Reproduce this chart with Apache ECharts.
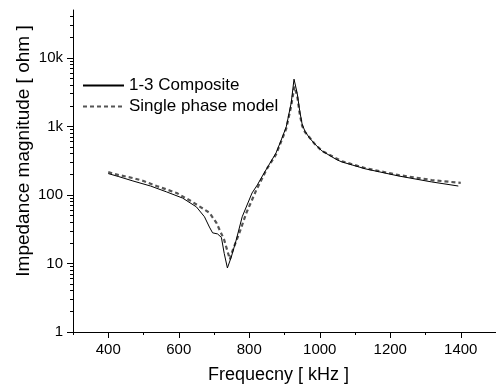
<!DOCTYPE html>
<html>
<head>
<meta charset="utf-8">
<script src="https://cdn.jsdelivr.net/npm/echarts@6/dist/echarts.min.js"></script>
<style>
  html, body { margin: 0; padding: 0; background: #fff; }
  #chart { width: 496px; height: 385px; }
</style>
</head>
<body>
<div id="chart"></div>
<script>
// 1-3 Composite (measured)
var freqComposite = [400, 430, 470, 520, 565, 611, 650, 673, 687, 696, 710, 721, 729, 738, 749, 763, 780, 808, 823, 834, 855, 876, 890, 905, 919, 927, 936, 943, 950, 958, 970, 985, 1006, 1049, 1063, 1130, 1224, 1317, 1393];
var magComposite = [205, 185, 160, 135, 111, 90, 67, 48, 34, 28, 27, 24, 14, 8.6, 12.4, 22, 48, 107, 140, 177, 270, 410, 620, 985, 2200, 4900, 3050, 1700, 1080, 850, 690, 560, 440, 325, 303, 240, 189, 155, 135];

// Single phase model
var freqModel = [400, 430, 469, 500, 537, 594, 639, 687, 707, 729, 745, 752, 772, 792, 820, 850, 876, 905, 919, 928, 936, 943, 950, 958, 970, 985, 1006, 1063, 1130, 1224, 1317, 1400];
var magModel = [215, 195, 177, 160, 135, 107, 79, 55, 39, 22, 11.5, 15, 28, 55, 118, 240, 390, 930, 2000, 3800, 2800, 1550, 1020, 830, 700, 560, 440, 310, 245, 195, 165, 150];

var xMajorTicks = [400, 600, 800, 1000, 1200, 1400];
var xMinorTicks = [300, 500, 700, 900, 1100, 1300, 1500];
var yMajorTicks = [1, 10, 100, 1000, 10000];
var yMinorTicks = [2, 3, 4, 5, 6, 7, 8, 9, 20, 30, 40, 50, 60, 70, 80, 90,
  200, 300, 400, 500, 600, 700, 800, 900, 2000, 3000, 4000, 5000, 6000, 7000, 8000, 9000,
  20000, 30000, 40000];

function pairs(xs, ys) {
  return xs.map(function (x, i) { return [x, ys[i]]; });
}

var chart = echarts.init(document.getElementById('chart'));
var font = 'Liberation Sans, Arial, sans-serif';

var option = {
  animation: false,
  textStyle: { fontFamily: font },
  grid: { left: 73, right: 0, top: 10, bottom: 53, outerBoundsMode: 'none', containLabel: false },
  legend: {
    left: 77, top: 72, orient: 'vertical',
    itemWidth: 41, itemHeight: 14, itemGap: 4,
    itemStyle: { opacity: 0 },
    textStyle: { fontSize: 17, color: '#000', fontFamily: font },
    data: ['1-3 Composite', 'Single phase model']
  },
  xAxis: [{
    type: 'value', min: 300, max: 1500,
    name: 'Frequecny [ kHz ]', nameLocation: 'middle', nameGap: 34,
    nameTextStyle: { fontSize: 18, color: '#000', padding: [0, 12, 0, 0] },
    axisLine: { lineStyle: { color: '#000', width: 1 } },
    axisTick: { customValues: xMajorTicks, length: 6, lineStyle: { color: '#000' } },
    axisLabel: {
      customValues: xMajorTicks, fontSize: 15, color: '#000', margin: 10,
      formatter: function (v) { return String(v); }
    },
    splitLine: { show: false }
  }, {
    type: 'value', min: 300, max: 1500, position: 'bottom',
    axisLine: { show: false },
    axisTick: { customValues: xMinorTicks, length: 3, lineStyle: { color: '#000' } },
    axisLabel: { show: false },
    splitLine: { show: false }
  }],
  yAxis: [{
    type: 'log', min: 1, max: 50000, logBase: 10,
    name: 'Impedance magnitude [ ohm ]', nameLocation: 'middle', nameGap: 40,
    nameMoveOverlap: false,
    nameTextStyle: { fontSize: 19, color: '#000', padding: [0, 0, 0, 40] },
    axisLine: { show: true, lineStyle: { color: '#000', width: 1 } },
    axisTick: { customValues: yMajorTicks, length: 6, lineStyle: { color: '#000' } },
    axisLabel: {
      customValues: yMajorTicks, fontSize: 15, color: '#000', margin: 10,
      formatter: function (v) { return v >= 1000 ? (v / 1000) + 'k' : String(v); }
    },
    splitLine: { show: false }
  }, {
    type: 'log', min: 1, max: 50000, logBase: 10, position: 'left',
    axisLine: { show: false },
    axisTick: { customValues: yMinorTicks, length: 3, lineStyle: { color: '#000' } },
    axisLabel: { show: false },
    splitLine: { show: false }
  }],
  series: [{
    name: '1-3 Composite', type: 'line', symbol: 'none',
    data: pairs(freqComposite, magComposite),
    lineStyle: { color: '#000', width: 1 },
    itemStyle: { color: '#000' },
    z: 3
  }, {
    name: 'Single phase model', type: 'line', symbol: 'none',
    data: pairs(freqModel, magModel),
    lineStyle: { color: '#555', width: 2.2, type: [4, 3] },
    itemStyle: { color: '#555' },
    z: 2
  }]
};
chart.setOption(option);
</script>
</body>
</html>
